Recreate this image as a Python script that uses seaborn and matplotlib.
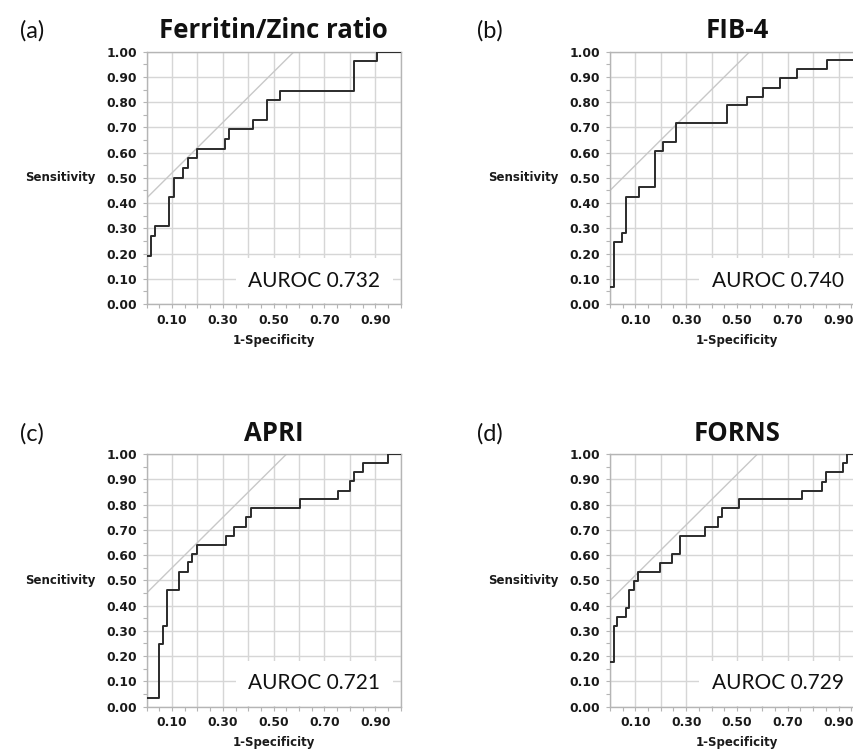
import matplotlib
matplotlib.use("Agg")
import matplotlib.pyplot as plt
import seaborn as sns
import numpy as np
import pandas as pd
from matplotlib.ticker import MultipleLocator, FixedLocator, FixedFormatter

# ---------------- data ----------------
titles = ["Ferritin/Zinc ratio", "FIB-4", "APRI", "FORNS"]
panel_labels = ["(a)", "(b)", "(c)", "(d)"]
ylabels = ["Sensitivity", "Sensitivity", "Sencitivity", "Sensitivity"]
auroc_texts = ["AUROC 0.732", "AUROC 0.740", "AUROC 0.721", "AUROC 0.729"]

fpr_a = [0.0, 0.017, 0.033, 0.089, 0.109, 0.142, 0.164, 0.200, 0.308, 0.325,
         0.417, 0.472, 0.525, 0.816, 0.908, 1.0]
tpr_a = [0.192, 0.269, 0.308, 0.423, 0.500, 0.538, 0.577, 0.615, 0.654, 0.692,
         0.731, 0.808, 0.846, 0.962, 1.0, 1.0]

fpr_b = [0.0, 0.017, 0.049, 0.063, 0.113, 0.178, 0.210, 0.260, 0.460, 0.540,
         0.603, 0.671, 0.737, 0.853, 0.980, 1.0]
tpr_b = [0.069, 0.246, 0.282, 0.426, 0.464, 0.607, 0.642, 0.717, 0.787, 0.821,
         0.857, 0.894, 0.930, 0.966, 1.0, 1.0]

fpr_c = [0.0, 0.049, 0.063, 0.079, 0.129, 0.164, 0.177, 0.197, 0.311, 0.344,
         0.391, 0.409, 0.604, 0.755, 0.800, 0.818, 0.850, 0.950, 1.0]
tpr_c = [0.033, 0.248, 0.321, 0.461, 0.535, 0.571, 0.606, 0.641, 0.676, 0.713,
         0.750, 0.786, 0.822, 0.856, 0.892, 0.930, 0.964, 1.0, 1.0]

fpr_d = [0.0, 0.017, 0.029, 0.063, 0.076, 0.096, 0.112, 0.195, 0.243, 0.276,
         0.375, 0.424, 0.441, 0.507, 0.754, 0.836, 0.851, 0.918, 0.934, 1.0]
tpr_d = [0.176, 0.319, 0.355, 0.391, 0.461, 0.498, 0.535, 0.570, 0.605, 0.677,
         0.713, 0.750, 0.785, 0.821, 0.856, 0.891, 0.930, 0.964, 1.0, 1.0]

# intercepts of the slope-1 reference (tangent) lines
tangent_intercepts = [0.42, 0.45, 0.45, 0.42]

x_ticks = [0.0, 0.1, 0.2, 0.3, 0.4, 0.5, 0.6, 0.7, 0.8, 0.9, 1.0]
x_ticklabels = ["", "0.10", "", "0.30", "", "0.50", "", "0.70", "", "0.90", ""]
y_ticks = [0.0, 0.1, 0.2, 0.3, 0.4, 0.5, 0.6, 0.7, 0.8, 0.9, 1.0]
y_ticklabels = ["0.00", "0.10", "0.20", "0.30", "0.40", "0.50", "0.60",
                "0.70", "0.80", "0.90", "1.00"]

curves = [(fpr_a, tpr_a), (fpr_b, tpr_b), (fpr_c, tpr_c), (fpr_d, tpr_d)]

# ---------------- style ----------------
sns.set_style("white")
plt.rcParams["font.family"] = ["DejaVu Sans"]

W, H = 854, 749
fig = plt.figure(figsize=(W / 100, H / 100), dpi=100)

ax_w = 254 / W
ax_h = 252.3 / H
lefts = [146.7 / W, 610 / W, 146.7 / W, 610 / W]
bottoms = [1 - 304 / H, 1 - 304 / H, 1 - 706.5 / H, 1 - 706.5 / H]
label_x = [20, 477, 20, 477]
title_base = [38, 38, 440.6, 440.6]

grid_col = "#d6d6d6"
spine_col = "#b5b5b5"
text_font = "Lato"
title_font = "Open Sans"

for i in range(4):
    ax = fig.add_axes([lefts[i], bottoms[i], ax_w, ax_h])
    ax.set_axisbelow(True)
    fpr, tpr = curves[i]
    df = pd.DataFrame({"fpr": fpr, "tpr": tpr})
    b = tangent_intercepts[i]
    tan_df = pd.DataFrame({"x": [0.0, 1.0 - b], "y": [b, 1.0]})
    sns.lineplot(data=tan_df, x="x", y="y", ax=ax, color="#c8c8c8",
                 linewidth=1.0, zorder=2)
    sns.lineplot(data=df, x="fpr", y="tpr", ax=ax, color="#2b2b2b",
                 linewidth=1.4, drawstyle="steps-post", estimator=None,
                 zorder=3)

    ax.set_xlim(0, 1)
    ax.set_ylim(0, 1)
    ax.xaxis.set_major_locator(FixedLocator(x_ticks))
    ax.xaxis.set_major_formatter(FixedFormatter(x_ticklabels))
    ax.yaxis.set_major_locator(FixedLocator(y_ticks))
    ax.yaxis.set_major_formatter(FixedFormatter(y_ticklabels))
    ax.xaxis.set_minor_locator(MultipleLocator(0.05))
    ax.yaxis.set_minor_locator(MultipleLocator(0.05))
    ax.grid(True, which="major", color=grid_col, linewidth=1.0)
    ax.tick_params(axis="both", which="both", direction="out", length=3,
                   width=0.8, color=spine_col, pad=4,
                   labelsize=8.8, labelcolor="#1a1a1a",
                   bottom=True, left=True, top=False, right=False)
    for lab in ax.get_xticklabels() + ax.get_yticklabels():
        lab.set_fontweight("bold")
    for s in ax.spines.values():
        s.set_color(spine_col)
        s.set_linewidth(1.0)
        s.set_visible(True)

    ax.set_xlabel("1-Specificity", fontsize=8.5, fontweight="bold",
                  color="#1a1a1a", va="center")
    ax.xaxis.set_label_coords(0.5, -0.143)
    ax.set_ylabel(ylabels[i], fontsize=8.5, fontweight="bold",
                  color="#1a1a1a", rotation=0, ha="right", va="center")
    ax.yaxis.set_label_coords(-0.2035, 0.5)

    ax.text(0.92, 0.069, auroc_texts[i], ha="right", va="baseline",
            fontsize=15, family=text_font, color="#111111", zorder=1,
            bbox=dict(boxstyle="square,pad=0.6", facecolor="white",
                      edgecolor="none"))

    # panel label and title
    fig.text(label_x[i] / W, 1 - title_base[i] / H, panel_labels[i],
             ha="left", va="baseline", fontsize=17, family=text_font,
             color="#111111")
    fig.text(lefts[i] + ax_w / 2, 1 - title_base[i] / H, titles[i],
             ha="center", va="baseline", fontsize=18.5, fontweight="bold",
             family=title_font, color="#111111")

fig.savefig("out.png", dpi=100, facecolor="white")
